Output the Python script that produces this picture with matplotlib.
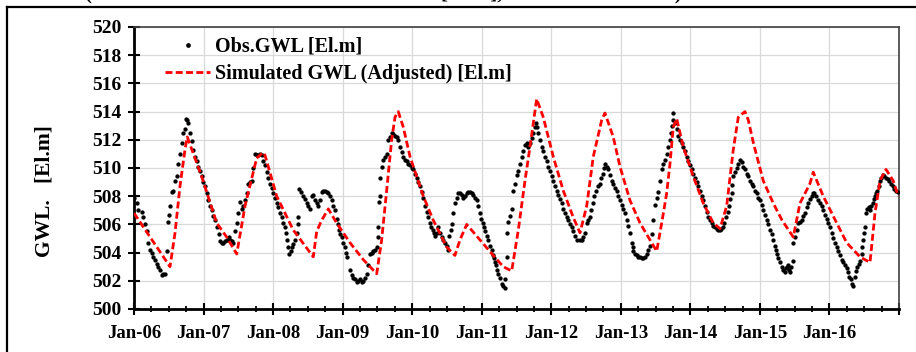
import matplotlib
matplotlib.use("Agg")
import matplotlib.pyplot as plt
from matplotlib.lines import Line2D
from matplotlib.ticker import MultipleLocator, FixedLocator
import numpy as np

plt.rcParams['font.family'] = ['Liberation Serif', 'DejaVu Serif']
plt.rcParams['font.weight'] = 'bold'

# Observed groundwater level: years since Jan-2006, elevation [El.m]
obs_t = [
    0.000, 0.039, 0.062, 0.111, 0.134, 0.158, 0.180, 0.206, 0.230, 0.254, 0.277, 0.302, 0.326, 0.350,
    0.374, 0.398, 0.422, 0.446, 0.470, 0.493, 0.508, 0.518, 0.542, 0.561,
    0.590, 0.614, 0.637, 0.661, 0.686, 0.709, 0.733, 0.748, 0.765, 0.781, 0.805, 0.830, 0.853, 0.877,
    0.902, 0.925, 0.949, 0.973, 0.996, 1.021, 1.045, 1.068, 1.093, 1.117, 1.140, 1.165, 1.198, 1.218,
    1.237, 1.261, 1.284, 1.309, 1.333, 1.366, 1.385, 1.405, 1.428, 1.452, 1.477, 1.500, 1.524, 1.548,
    1.572, 1.596, 1.620, 1.643, 1.668, 1.692, 1.715, 1.740, 1.764, 1.787, 1.812, 1.836, 1.859, 1.884,
    1.908, 1.931, 1.955, 1.980, 2.003, 2.027, 2.052, 2.075, 2.099, 2.124, 2.147, 2.167, 2.186, 2.205,
    2.219, 2.234, 2.251, 2.268, 2.290, 2.315, 2.339, 2.354, 2.363,
    2.377, 2.406, 2.434, 2.459, 2.483, 2.506, 2.531, 2.555, 2.578, 2.602, 2.627, 2.650, 2.674, 2.699,
    2.722, 2.746, 2.771, 2.794, 2.818, 2.843, 2.866, 2.890, 2.914, 2.933, 2.951, 2.969, 2.986, 3.009,
    3.034, 3.051, 3.067,
    3.106, 3.131, 3.154, 3.178, 3.203, 3.226, 3.250, 3.275, 3.297, 3.322, 3.346, 3.369, 3.393, 3.418,
    3.441, 3.465, 3.490, 3.504, 3.513,
    3.527, 3.537, 3.544, 3.561, 3.584, 3.609, 3.633, 3.657, 3.680, 3.705, 3.728, 3.753, 3.777, 3.800,
    3.825, 3.849, 3.872, 3.896, 3.921, 3.944, 3.969, 3.993, 4.016, 4.040, 4.065, 4.088, 4.112, 4.137,
    4.160, 4.185, 4.209, 4.232, 4.256, 4.275, 4.295, 4.314, 4.328, 4.353, 4.376, 4.400, 4.425, 4.448,
    4.472, 4.496, 4.519, 4.534, 4.551, 4.568, 4.591, 4.615, 4.640, 4.663, 4.687, 4.711, 4.734, 4.759,
    4.784, 4.807, 4.831, 4.855, 4.879, 4.903, 4.927, 4.950, 4.975, 4.993, 5.013, 5.033, 5.047, 5.071,
    5.094, 5.119, 5.143, 5.161, 5.176, 5.190, 5.205, 5.222, 5.238, 5.262, 5.287, 5.310, 5.334, 5.341,
    5.359, 5.364, 5.382, 5.407, 5.431, 5.454, 5.479, 5.503, 5.526, 5.550, 5.574, 5.597, 5.622, 5.646,
    5.669, 5.694, 5.718, 5.741, 5.766, 5.780, 5.797, 5.813, 5.838, 5.862, 5.885, 5.910, 5.934, 5.957,
    5.981, 6.006, 6.029, 6.054, 6.078, 6.101, 6.125, 6.150, 6.173, 6.197, 6.221, 6.245, 6.269, 6.293,
    6.316, 6.341, 6.374, 6.406, 6.437, 6.460, 6.485, 6.509, 6.532, 6.557, 6.575, 6.596, 6.618, 6.643,
    6.672, 6.701, 6.719, 6.739, 6.758, 6.772, 6.797, 6.820, 6.844, 6.869, 6.892, 6.916, 6.941, 6.964,
    6.988, 7.013, 7.036, 7.060, 7.085, 7.108, 7.132, 7.157, 7.168, 7.180, 7.204, 7.229, 7.252, 7.276,
    7.301, 7.324, 7.349, 7.373, 7.396, 7.419, 7.444, 7.467, 7.491, 7.515, 7.538, 7.562, 7.587, 7.610,
    7.634, 7.659, 7.682, 7.707, 7.717, 7.735, 7.745, 7.754, 7.779, 7.803, 7.826, 7.850, 7.875, 7.898,
    7.922, 7.947, 7.970, 7.994, 8.019, 8.042, 8.066, 8.091, 8.114, 8.138, 8.163, 8.186, 8.210, 8.234,
    8.257, 8.282, 8.306, 8.329, 8.354, 8.378, 8.401, 8.426, 8.444, 8.464, 8.487, 8.512, 8.536, 8.559,
    8.577, 8.594, 8.605, 8.617, 8.641, 8.666, 8.689, 8.713, 8.738, 8.761, 8.785, 8.810, 8.833, 8.857,
    8.881, 8.904, 8.929, 8.953, 8.976, 9.001, 9.025, 9.048, 9.073, 9.097, 9.120, 9.145, 9.169, 9.192,
    9.212, 9.231, 9.248, 9.264, 9.288, 9.313, 9.336, 9.356, 9.374, 9.392, 9.408, 9.421, 9.432, 9.451,
    9.471,
    9.480, 9.502, 9.528, 9.551, 9.576, 9.600, 9.623, 9.648, 9.672, 9.695, 9.720, 9.744, 9.763, 9.782,
    9.810, 9.839, 9.864, 9.888, 9.911, 9.936, 9.960, 9.983, 10.007, 10.032, 10.055, 10.079, 10.104,
    10.127, 10.151, 10.176, 10.199, 10.223, 10.248, 10.271, 10.288, 10.306, 10.324, 10.343, 10.367,
    10.385, 10.400, 10.421, 10.439, 10.464, 10.475, 10.487, 10.499, 10.511, 10.526, 10.544, 10.564,
    10.583, 10.602, 10.621, 10.640, 10.655, 10.672, 10.688, 10.708, 10.727, 10.746, 10.766, 10.789,
    10.813, 10.837, 10.861, 10.884, 10.909, 10.932, 10.956, 10.989,
]
obs_gwl = [
    507.85, 507.5, 507.0, 506.9, 506.5, 506.0, 505.5, 504.7, 504.2, 503.95, 503.7, 503.45, 503.2, 503.0,
    502.8, 502.4, 502.45, 502.5, 504.1, 506.2, 506.7, 507.3, 508.3, 508.4,
    509.1, 509.4, 510.3, 511.0, 511.8, 512.5, 512.8, 513.5, 513.4, 513.2, 512.5, 511.9, 511.3, 510.8,
    510.5, 510.1, 509.8, 509.4, 509.0, 508.7, 508.2, 507.7, 507.3, 507.0, 506.6, 506.3, 505.8, 505.3,
    504.8, 504.7, 504.7, 504.8, 504.9, 505.1, 504.9, 504.8, 504.7, 505.5, 506.1, 506.8, 507.6, 507.1,
    507.3, 507.7, 508.2, 508.9, 509.0, 509.1, 510.0, 511.0, 510.9, 510.9, 511.0, 510.9, 510.5, 510.2,
    509.7, 509.3, 508.9, 508.6, 508.2, 507.9, 507.5, 507.2, 506.8, 506.5, 506.1, 505.8, 505.4, 504.9,
    504.4, 503.9, 504.1, 504.4, 504.6, 504.9, 505.4, 506.0, 506.5,
    508.5, 508.3, 508.0, 507.8, 507.5, 507.3, 507.1, 508.0, 508.1, 507.7, 507.5, 507.3, 507.7, 508.3,
    508.4, 508.4, 508.3, 508.2, 508.0, 507.7, 507.3, 507.0, 506.4, 506.0, 505.6, 505.3, 505.1, 504.7,
    504.4, 504.0, 503.7,
    502.8, 502.4, 502.2, 502.1, 501.9, 502.0, 502.1, 501.9, 502.0, 502.2, 502.5, 503.1, 503.9, 504.0,
    504.1, 504.2, 504.4, 505.1, 505.8,
    507.6, 508.0, 509.3, 510.1, 510.6, 510.8, 511.0, 512.0, 512.2, 512.5, 512.4, 512.3, 512.2, 512.0,
    511.5, 511.1, 510.8, 510.6, 510.5, 510.3, 510.2, 510.0, 509.9, 509.6, 509.3, 509.0, 508.7, 508.3,
    507.85, 507.3, 506.9, 506.5, 506.1, 505.8, 505.6, 505.4, 505.2, 505.4, 505.8, 505.4, 505.1, 504.9,
    504.7, 504.5, 504.2, 505.2, 505.6, 506.0, 506.8, 507.5, 507.9, 508.2, 508.2, 508.1, 507.85, 508.0,
    508.2, 508.3, 508.3, 508.2, 508.1, 507.9, 507.7, 507.3, 506.8, 506.4, 506.1, 505.8, 505.5, 505.2,
    504.9, 504.5, 504.2, 503.8, 503.6, 503.3, 503.1, 502.8, 502.5, 502.2, 501.8, 501.6, 501.5, 502.1,
    503.7, 505.4, 506.2, 506.6, 507.1, 508.4, 508.9, 509.5, 509.8, 510.3, 510.8, 511.2, 511.6, 511.8,
    511.5, 511.8, 512.1, 512.5, 512.9, 513.2, 512.9, 512.5, 512.0, 511.5, 511.2, 510.8, 510.5, 510.1,
    509.8, 509.4, 509.1, 508.7, 508.4, 508.1, 507.8, 507.5, 507.1, 506.8, 506.5, 506.3, 506.0, 505.8,
    505.5, 505.2, 504.9, 504.9, 504.9, 505.1, 505.4, 506.1, 506.3, 506.5, 507.0, 507.5, 508.0, 508.4,
    508.7, 508.9, 509.3, 509.6, 510.0, 510.3, 510.1, 509.9, 509.5, 509.1, 508.9, 508.6, 508.4, 508.0,
    507.7, 507.4, 507.1, 506.8, 506.3, 505.9, 505.4, 504.7, 504.4, 504.1, 503.9, 503.8, 503.7, 503.7,
    503.6, 503.6, 503.7, 503.9, 504.2, 504.5, 505.3, 506.3, 507.4, 507.9, 508.3, 509.1, 509.9, 510.3,
    510.6, 511.0, 511.5, 512.0, 512.5, 513.0, 513.4, 513.9, 513.2, 512.8, 512.3, 512.0, 511.8, 511.5,
    511.2, 510.8, 510.5, 510.2, 509.9, 509.6, 509.3, 509.0, 508.7, 508.4, 508.0, 507.7, 507.3, 506.9,
    506.5, 506.3, 506.1, 505.9, 505.8, 505.7, 505.6, 505.6, 505.7, 505.8, 506.1, 506.5, 506.9, 507.3,
    507.8, 508.2, 508.8, 509.4, 509.7, 510.0, 510.3, 510.6, 510.4, 510.1, 509.9, 509.6, 509.4, 509.1,
    508.9, 508.7, 508.4, 508.2, 507.9, 507.7, 507.4, 507.0, 506.7, 506.3, 506.0, 505.6, 505.3, 504.9,
    504.5, 504.2, 503.9, 503.6, 503.3, 503.0, 502.8, 502.6, 502.9, 503.0, 503.1, 502.8, 502.6, 503.0,
    503.4,
    504.7, 505.1, 505.6, 506.1, 506.2, 506.3, 506.6, 506.8, 507.2, 507.5, 507.8, 508.0, 508.2, 508.2,
    508.0, 507.7, 507.5, 507.3, 507.0, 506.7, 506.4, 506.1, 505.8, 505.4, 505.0, 504.7, 504.4,
    504.1, 503.8, 503.5, 503.3, 503.1, 502.9, 502.6, 502.3, 502.1, 501.8, 501.6, 502.3,
    502.7, 503.0, 503.2, 503.4, 503.9, 504.4, 504.9, 505.4, 505.8, 506.8, 507.1, 507.2,
    507.0, 507.3, 507.5, 507.8, 508.0, 508.2, 508.4, 508.7, 509.1, 509.3, 509.5, 509.4,
    509.3, 509.2, 509.1, 508.9, 508.7, 508.5, 508.4, 508.3,
]

# Simulated (adjusted) groundwater level
sim_t = [
    0.000, 0.518, 0.590, 0.661, 0.733, 0.766, 0.973, 1.189, 1.333, 1.477, 1.596, 1.764, 1.855, 1.884,
    2.052, 2.290, 2.578, 2.627, 2.699, 2.794, 2.914, 3.106, 3.297, 3.490, 3.561, 3.633, 3.705, 3.753,
    3.800, 3.872, 3.969, 4.160, 4.303, 4.496, 4.615, 4.687, 4.784, 4.975, 5.166, 5.310, 5.431, 5.526,
    5.622, 5.694, 5.790, 5.885, 6.029, 6.172, 6.316, 6.413, 6.509, 6.604, 6.725, 6.772, 6.891, 6.988,
    7.132, 7.276, 7.419, 7.516, 7.588, 7.659, 7.707, 7.754, 7.803, 7.898, 8.042, 8.186, 8.329, 8.426,
    8.522, 8.617, 8.689, 8.785, 8.833, 8.905, 9.048, 9.192, 9.318, 9.480, 9.576, 9.720, 9.767, 9.911,
    10.104, 10.248, 10.439, 10.583, 10.655, 10.727, 10.813, 10.917, 10.989,
]
sim_gwl = [
    506.8, 503.0, 505.4, 508.7, 511.3, 512.2, 509.4, 506.1, 505.1, 503.9, 507.3, 510.7, 511.1, 510.9,
    508.0, 505.6, 503.7, 505.5, 506.3, 507.1, 506.1, 504.7, 503.5, 502.5, 504.9, 508.4, 512.0, 513.6,
    514.0, 512.9, 510.8, 508.0, 506.3, 504.4, 503.8, 504.9, 506.0, 504.9, 503.8, 503.0, 502.7, 505.6,
    509.1, 511.5, 514.9, 513.6, 510.8, 508.4, 506.5, 505.4, 507.3, 510.8, 513.4, 513.9, 512.2, 510.1,
    507.7, 506.1, 504.9, 504.1, 506.1, 508.2, 510.3, 512.9, 513.5, 511.5, 509.4, 507.5, 506.1, 505.7,
    507.3, 511.3, 513.6, 514.0, 513.4, 511.8, 509.1, 507.5, 506.3, 505.1, 507.5, 508.9, 509.7, 508.0,
    506.1, 504.7, 503.7, 503.3, 506.8, 509.1, 509.9, 509.1, 508.0,
]

start_year = 2006
year_ticks = list(range(2006, 2018))
year_labels = ['Jan-06', 'Jan-07', 'Jan-08', 'Jan-09', 'Jan-10', 'Jan-11',
               'Jan-12', 'Jan-13', 'Jan-14', 'Jan-15', 'Jan-16', '']
gwl_ticks = list(range(500, 521, 2))

W, H = 916, 352
fig = plt.figure(figsize=(W / 100, H / 100), dpi=100)
ax = fig.add_axes([134 / W, 1 - 309 / H, (899 - 134) / W, (309 - 27) / H])

obs_x = start_year + np.array(obs_t)
sim_x = start_year + np.array(sim_t)

ax.plot(obs_x, obs_gwl, linestyle='none', marker='o', markersize=3.1,
        markerfacecolor='black', markeredgecolor='black', markeredgewidth=0,
        label='Obs.GWL [El.m]', zorder=3)
ax.plot(sim_x, sim_gwl, color='#ff0000', linewidth=2.0, dashes=(2.5, 1.2),
        label='Simulated GWL (Adjusted) [El.m]', zorder=4)

ax.set_xlim(2006, 2017)
ax.set_ylim(500, 520)
ax.xaxis.set_major_locator(FixedLocator(year_ticks))
ax.set_xticklabels(year_labels)
ax.xaxis.set_minor_locator(MultipleLocator(0.25))
ax.set_yticks(gwl_ticks)

ax.grid(True, which='major', color='#d9d9d9', linewidth=0.9, zorder=0)
ax.set_axisbelow(True)

for side in ('left', 'bottom'):
    ax.spines[side].set_linewidth(2.0)
    ax.spines[side].set_color('black')
for side in ('top', 'right'):
    ax.spines[side].set_linewidth(1.2)
    ax.spines[side].set_color('#404040')

ax.tick_params(axis='both', which='major', direction='inout', length=8.5, width=1.5,
               color='black')
ax.tick_params(axis='x', which='major', pad=7, labelsize=13.5)
ax.tick_params(axis='y', which='major', pad=5, labelsize=14)
ax.tick_params(axis='x', which='minor', direction='inout', length=5, width=1.3, color='black')
for lbl in ax.get_xticklabels() + ax.get_yticklabels():
    lbl.set_fontweight('bold')

leg = ax.legend(loc='upper left', bbox_to_anchor=(0.0405, 0.965), frameon=False,
                fontsize=14.5, handlelength=2.25, handletextpad=0.25, labelspacing=0.35,
                borderpad=0, borderaxespad=0, numpoints=1, markerscale=1.1)
for txt in leg.get_texts():
    txt.set_fontweight('bold')

fig.text(45 / W, 1 - 191 / H, 'GWL.   [El.m]', rotation=90, ha='center', va='center',
         fontsize=15.5, fontweight='bold')

# Title sitting above the top edge of the chart frame
fig.text(85 / W, 1 + 1.5 / H, '(Observed and Simulated GWL of Well [El.m], Calibration Period)',
         ha='left', va='baseline', fontsize=15, fontweight='bold')

# Chart frame
frame_kw = dict(color='black', linewidth=1.6, transform=fig.transFigure, clip_on=False)
fig.add_artist(Line2D([7 / W, 7 / W], [1 - 7 / H, 0], **frame_kw))
fig.add_artist(Line2D([7 / W, 1], [1 - 7 / H, 1 - 7 / H], **frame_kw))

fig.savefig('out.png', dpi=100)
